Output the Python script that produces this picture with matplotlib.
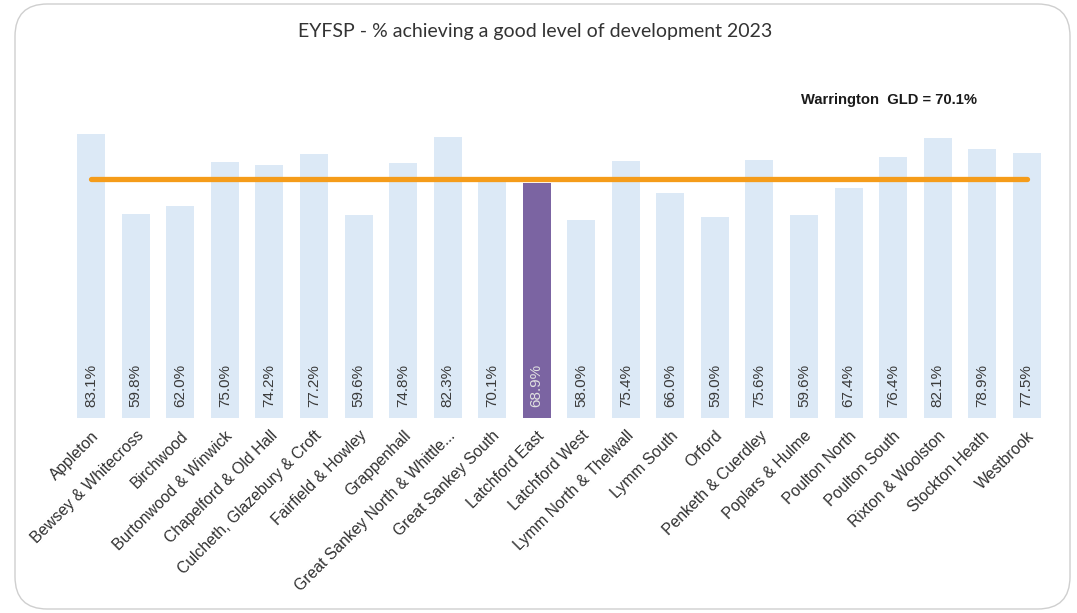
import matplotlib.pyplot as plt
from matplotlib.patches import FancyBboxPatch

# данные
wards = ["Appleton", "Bewsey & Whitecross", "Birchwood", "Burtonwood & Winwick",
         "Chapelford & Old Hall", "Culcheth, Glazebury & Croft", "Fairfield & Howley",
         "Grappenhall", "Great Sankey North & Whittle...", "Great Sankey South",
         "Latchford East", "Latchford West", "Lymm North & Thelwall", "Lymm South",
         "Orford", "Penketh & Cuerdley", "Poplars & Hulme", "Poulton North",
         "Poulton South", "Rixton & Woolston", "Stockton Heath", "Westbrook"]
gld = [83.1, 59.8, 62.0, 75.0, 74.2, 77.2, 59.6, 74.8, 82.3, 70.1, 68.9,
       58.0, 75.4, 66.0, 59.0, 75.6, 59.6, 67.4, 76.4, 82.1, 78.9, 77.5]
highlight = "Latchford East"
warrington_gld = 70.1

light = "#dce9f6"
purple = "#7b64a2"
orange = "#f59c1a"

W, H = 1077, 613
fig = plt.figure(figsize=(W / 100, H / 100), dpi=100)
fig.patch.set_facecolor("white")

# рамка со скруглёнными углами
frame = FancyBboxPatch((15 / W, 4 / H), 1055 / W, 605 / H,
                       boxstyle="round,pad=0,rounding_size=0.03",
                       transform=fig.transFigure, facecolor="none",
                       edgecolor="#cfcfcf", linewidth=1.0, mutation_aspect=W / H,
                       zorder=-1)
fig.patches.append(frame)

ax = fig.add_axes([69 / W, (H - 418.4) / H, 980 / W, 358 / H])
ax.set_facecolor("none")

x = list(range(len(wards)))
colors = [purple if w == highlight else light for w in wards]
ax.bar(x, gld, width=0.63, color=colors, zorder=1)

for i, v in enumerate(gld):
    tc = "#e0e0e0" if wards[i] == highlight else "#3a3a3a"
    ax.text(i, 3.3, f"{v:.1f}%", rotation=90, ha="center", va="bottom",
            fontsize=11, color=tc, family="Liberation Sans", zorder=3)

ax.plot([x[0], x[-1]], [warrington_gld, warrington_gld], color=orange,
        linewidth=3.8, solid_capstyle="round", zorder=2)
ax.text(17.9, 93.2, f"Warrington  GLD = {warrington_gld}%", ha="center", va="center",
        fontsize=10.6, fontweight="bold", family="Liberation Sans", color="#1a1a1a")

ax.set_xlim(-0.5, len(wards) - 0.5)
ax.set_ylim(0, 104.7)
ax.set_yticks([])
ax.set_xticks(x)
ax.set_xticklabels(wards, rotation=45, ha="right", va="top", rotation_mode="anchor",
                   fontsize=11.3, family="Liberation Sans", color="#303030")
ax.tick_params(axis="x", length=0, pad=7)
for s in ax.spines.values():
    s.set_visible(False)

fig.text(535 / W, 1 - 32 / H, "EYFSP - % achieving a good level of development 2023",
         ha="center", va="center", fontsize=14, family="Lato", color="#333333")

fig.savefig("out.png", dpi=100)
